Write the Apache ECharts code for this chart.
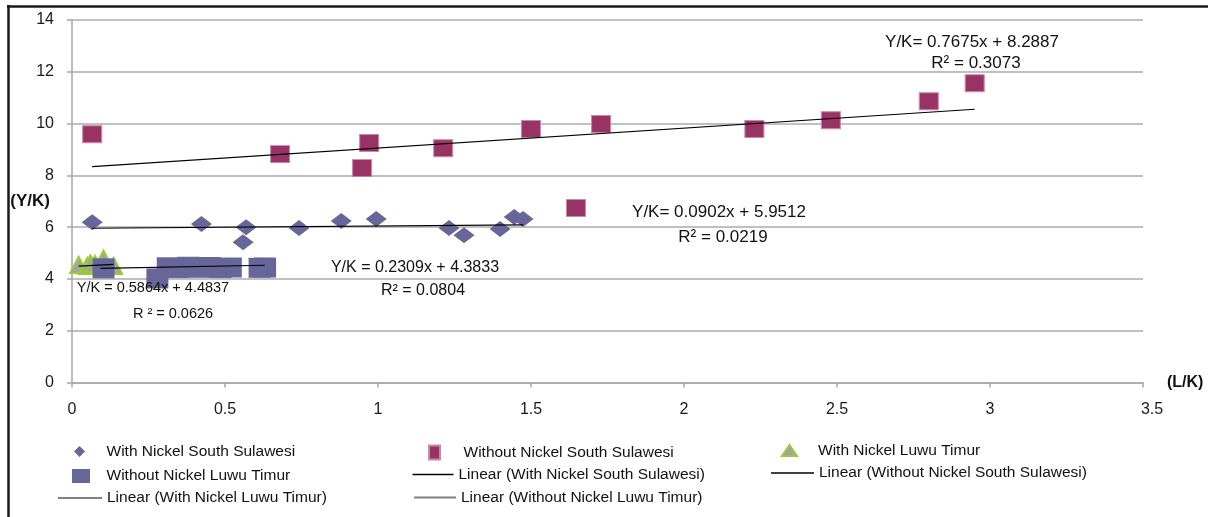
<!DOCTYPE html>
<html><head><meta charset="utf-8">
<script src="https://cdn.jsdelivr.net/npm/echarts@6/dist/echarts.min.js"></script>
<style>html,body{margin:0;padding:0;background:#fff}#c{width:1208px;height:517px}</style>
</head><body><div id="c"></div>
<script>
// ---- data ----
const xTickMin = 0, xTickMax = 3.5, xTickStep = 0.5;
const yTickMin = 0, yTickMax = 14, yTickStep = 2;

const withNickelSS = [[0.066,6.19],[0.423,6.12],[0.559,5.42],[0.569,6.0],[0.742,5.97],[0.88,6.24],[0.994,6.31],[1.232,5.97],[1.281,5.69],[1.399,5.93],[1.445,6.39],[1.474,6.31]];
const withoutNickelSS = [[0.066,9.59],[0.68,8.82],[0.948,8.28],[0.971,9.25],[1.213,9.05],[1.5,9.79],[1.647,6.74],[1.729,9.98],[2.23,9.79],[2.48,10.13],[2.80,10.86],[2.95,11.56]];
const withNickelLT = [[0.022,4.54],[0.05,4.5],[0.06,4.6],[0.075,4.58],[0.103,4.78],[0.136,4.5]];
const withoutNickelLT = [[0.103,4.41],[0.279,4.02],[0.313,4.45],[0.345,4.42],[0.38,4.47],[0.415,4.43],[0.45,4.46],[0.485,4.42],[0.519,4.44],[0.613,4.43],[0.631,4.44]];

// trendline end points (as drawn in the picture)
const trendWithSS = [[0.066,5.957],[1.474,6.084]];
const trendWithoutSS = [[0.066,8.34],[2.95,10.553]];
const trendWithLT = [[0.022,4.496],[0.136,4.563]];
const trendWithoutLT = [[0.093,4.405],[0.63,4.529]];

const names = ['With Nickel South Sulawesi','Without Nickel South Sulawesi','With Nickel Luwu Timur','Without Nickel Luwu Timur',
  'Linear (With Nickel South Sulawesi)','Linear (Without Nickel South Sulawesi)','Linear (With Nickel Luwu Timur)','Linear (Without Nickel Luwu Timur)'];

const equations = [
  {t:'Y/K= 0.7675x + 8.2887', x:972, y:42, s:17},
  {t:'R² = 0.3073', x:976, y:63, s:17},
  {t:'Y/K= 0.0902x + 5.9512', x:719, y:212, s:17},
  {t:'R² = 0.0219', x:723, y:237, s:17},
  {t:'Y/K = 0.2309x + 4.3833', x:415, y:268, s:16},
  {t:'R² = 0.0804', x:423, y:291, s:16},
  {t:'Y/K = 0.5864x + 4.4837', x:153, y:288, s:14.5},
  {t:'R ² = 0.0626', x:173, y:314, s:14.5}
];

const FONT = '"Liberation Sans", Arial, sans-serif';
const PURPLE = '#666699', MAGENTA = '#993366', GREEN = '#99cc33';

function lg(item, left, cy, w, h, pad) {
  return {
    show: true, selectedMode: false, padding: 0, left: left, top: cy + 2 - Math.max(h, 17) / 2,
    itemWidth: w, itemHeight: h, data: [item],
    textStyle: {fontFamily: FONT, fontSize: 15.5, color: '#111', padding: [0, 0, 0, pad]}
  };
}
function lineItem(name, color) {
  return {name: name, icon: 'rect', itemStyle: {color: color, borderWidth: 0, opacity: 1}};
}

const legends = [
  lg(names[0], 74, 450, 11, 11, 16.5),
  lg(names[1], 428, 451, 11, 14, 18.5),
  lg(names[2], 781, 449, 15, 11, 16),
  lg(names[3], 72, 474.5, 18, 14, 11.5),
  lg(lineItem(names[4], '#000'), 412.5, 473, 41, 1.5, 0),
  lg(lineItem(names[5], '#000'), 771, 471.5, 43, 1.5, 0),
  lg(lineItem(names[6], '#808080'), 58, 496.5, 44, 2, 0),
  lg(lineItem(names[7], '#808080'), 414, 496, 42, 2, 0)
];

const chart = echarts.init(document.getElementById('c'), null, {renderer: 'canvas'});
const trendStyle = {color: '#000', width: 1.2};
chart.setOption({
  animation: false,
  backgroundColor: '#fff',
  grid: {left: 72, right: 65, top: 20, bottom: 134.5, containLabel: false, outerBoundsMode: 'none'},
  xAxis: {
    type: 'value', min: xTickMin, max: xTickMax, interval: xTickStep,
    name: '(L/K)', nameLocation: 'end', nameGap: 24, nameMoveOverlap: false,
    nameTextStyle: {fontFamily: FONT, fontWeight: 'bold', fontSize: 16, color: '#111', padding: [81, 0, 0, 0]},
    axisLine: {show: true, lineStyle: {color: '#a6a6a6', width: 1.5}},
    axisTick: {show: true, inside: false, length: 5, lineStyle: {color: '#a6a6a6', width: 1.5}},
    axisLabel: {
      fontFamily: FONT, fontSize: 16, color: '#1a1a1a', margin: 19, showMaxLabel: true, showMinLabel: true,
      formatter: v => v === xTickMax ? '{r|' + v + '}' : String(v),
      rich: {r: {fontFamily: FONT, fontSize: 16, color: '#1a1a1a', padding: [0, 0, 0, 18]}}
    },
    splitLine: {show: false}
  },
  yAxis: {
    type: 'value', min: yTickMin, max: yTickMax, interval: yTickStep,
    name: '(Y/K)', nameLocation: 'middle', nameRotate: 0, nameGap: 22, nameMoveOverlap: false,
    nameTextStyle: {fontFamily: FONT, fontWeight: 'bold', fontSize: 17, color: '#111'},
    axisLine: {show: true, lineStyle: {color: '#a6a6a6', width: 1.5}},
    axisTick: {show: true, inside: false, length: 5, lineStyle: {color: '#a6a6a6', width: 1.5}},
    axisLabel: {fontFamily: FONT, fontSize: 16, color: '#1a1a1a', margin: 18},
    splitLine: {show: true, lineStyle: {color: '#ababab', width: 1.5}}
  },
  legend: legends,
  graphic: [
    {type: 'line', shape: {x1: 8.5, y1: 5, x2: 8.5, y2: 517}, style: {stroke: '#1a1a1a', lineWidth: 2.5}, silent: true},
    {type: 'line', shape: {x1: 7, y1: 6.5, x2: 1208, y2: 6.5}, style: {stroke: '#1a1a1a', lineWidth: 2.5}, silent: true}
  ].concat(equations.map(e => ({
    type: 'text', x: e.x, y: e.y, silent: true, z: 100,
    style: {text: e.t, fill: '#111', font: e.s + 'px ' + FONT, textAlign: 'center', textVerticalAlign: 'middle'}
  }))),
  series: [
    {name: names[0], type: 'scatter', data: withNickelSS, symbol: 'diamond', symbolSize: [21, 16],
      itemStyle: {color: PURPLE, opacity: 1}, z: 2},
    {name: names[1], type: 'scatter', data: withoutNickelSS, symbol: 'rect', symbolSize: [19, 17],
      itemStyle: {color: MAGENTA, borderColor: '#c98aa9', borderWidth: 1, opacity: 1}, z: 3},
    {name: names[2], type: 'scatter', data: withNickelLT, symbol: 'triangle', symbolSize: [17, 16],
      itemStyle: {color: '#a3a3a3', borderColor: GREEN, borderWidth: 2, opacity: 1}, z: 4},
    {name: names[3], type: 'scatter', data: withoutNickelLT, symbol: 'rect', symbolSize: [22, 20],
      itemStyle: {color: PURPLE, opacity: 1}, z: 5},
    {name: names[4], type: 'line', data: trendWithSS, symbol: 'none', lineStyle: trendStyle, itemStyle: {color: '#000'}, z: 10, silent: true},
    {name: names[5], type: 'line', data: trendWithoutSS, symbol: 'none', lineStyle: trendStyle, itemStyle: {color: '#000'}, z: 10, silent: true},
    {name: names[6], type: 'line', data: trendWithLT, symbol: 'none', lineStyle: trendStyle, itemStyle: {color: '#000'}, z: 10, silent: true},
    {name: names[7], type: 'line', data: trendWithoutLT, symbol: 'none', lineStyle: trendStyle, itemStyle: {color: '#000'}, z: 10, silent: true}
  ]
});
</script></body></html>
